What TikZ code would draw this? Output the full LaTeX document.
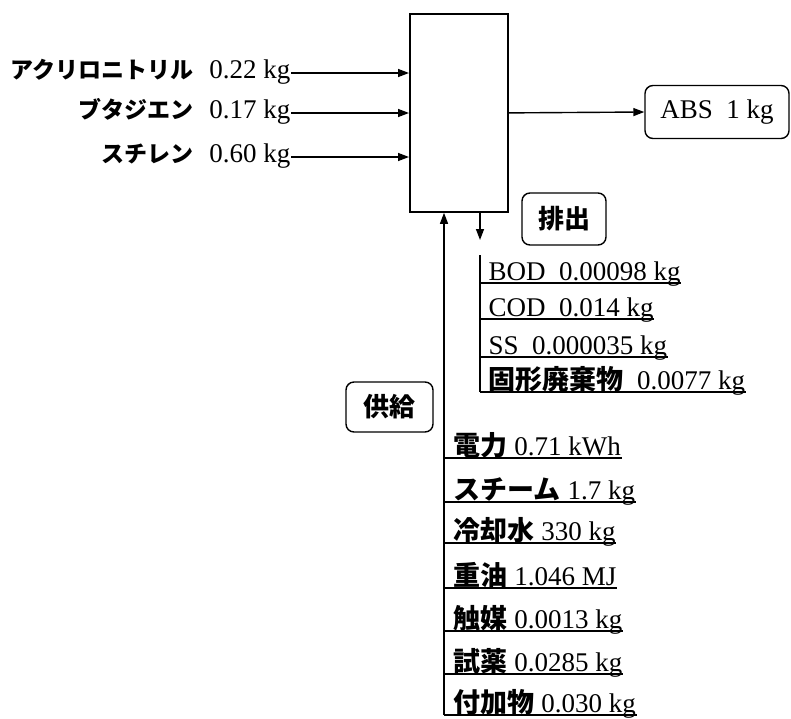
\documentclass[tikz,border=0pt]{standalone}
\usepackage{fontspec}
\setmainfont{Liberation Serif}
\newfontfamily\jpfont{Noto Sans CJK JP}
\newcommand\jpb[1]{{\jpfont\bfseries #1}}
\newcommand\jps[1]{{\fontsize{23}{25}\selectfont\jpfont\bfseries #1}}
\usetikzlibrary{arrows.meta,calc}
\begin{document}
\begin{tikzpicture}[x=1pt,y=-1pt,
  line width=1.4pt,
  arr/.style={-{Triangle[length=11pt,width=8pt]}},
  txt/.style={inner sep=0pt, font=\fontsize{27}{30}\selectfont},
  rbox/.style={draw, rounded corners=8pt, inner sep=0pt, font=\fontsize{26}{30}\selectfont},
  procbox/.style={draw, line width=1.8pt, inner sep=0pt, minimum width=98pt, minimum height=198pt},
]
\useasboundingbox (0,0) rectangle (791,718);

% process box
\node[procbox, anchor=north west] (proc) at (409,13) {};

% inputs
\node[txt, anchor=base east] (in1) at (291,78) {\jps{アクリロニトリル}\hspace{16pt}0.22 kg};
\node[txt, anchor=base east] (in2) at (291,118) {\jps{ブタジエン}\hspace{16pt}0.17 kg};
\node[txt, anchor=base east] (in3) at (291,162) {\jps{スチレン}\hspace{16pt}0.60 kg};
\foreach \n in {in1,in2,in3}{
  \draw[arr] ($(\n.base east)+(0,-5)$) -- ($(\n.base east -| proc.west)+(0,-5)$);
}

% output
\node[rbox, minimum width=144pt, minimum height=53pt, font=\fontsize{27}{30}\selectfont] (abs) at (717,112) {ABS\ \ 1 kg};
\draw[arr] (proc.east) -- (abs.west);

% emission
\coordinate (dn) at (480,240);
\draw[arr] (proc.south -| dn) -- (dn);
\node[rbox, minimum width=84pt, minimum height=52pt] (emit) at (564,219) {\jpb{排出}};
\coordinate (emtop) at (480,255);
\node[txt, anchor=base west] (e1) at (488,280) {BOD\ \ 0.00098 kg};
\node[txt, anchor=base west] (e2) at (488,316) {COD\ \ 0.014 kg};
\node[txt, anchor=base west] (e3) at (488,354) {SS\ \ 0.000035 kg};
\node[txt, anchor=base west] (e4) at (488,389) {\jpb{固形廃棄物}\ \ 0.0077 kg};
\draw (emtop) -- ($(emtop |- e4.base)+(0,3)$);
\foreach \n in {e1,e2,e3,e4}{
  \draw ($(emtop |- \n.base)+(0,3)$) -- ($(\n.base east)+(0,3)$);
}

% supply
\node[rbox, minimum width=87pt, minimum height=50pt] (supply) at (389.5,407) {\jpb{供給}};
\coordinate (supx) at (444,0);
\node[txt, anchor=base west] (s1) at (453,455) {\jpb{電力} 0.71 kWh};
\node[txt, anchor=base west] (s2) at (453,499) {\jpb{スチーム} 1.7 kg};
\node[txt, anchor=base west] (s3) at (453,540) {\jpb{冷却水} 330 kg};
\node[txt, anchor=base west] (s4) at (453,585) {\jpb{重油} 1.046 MJ};
\node[txt, anchor=base west] (s5) at (453,628) {\jpb{触媒} 0.0013 kg};
\node[txt, anchor=base west] (s6) at (453,671) {\jpb{試薬} 0.0285 kg};
\node[txt, anchor=base west] (s7) at (453,712) {\jpb{付加物} 0.030 kg};
\draw[arr] ($(supx |- s7.base)+(0,3)$) -- (supx |- proc.south);
\foreach \n in {s1,s2,s3,s4,s5,s6,s7}{
  \draw ($(supx |- \n.base)+(0,3)$) -- ($(\n.base east)+(0,3)$);
}
\end{tikzpicture}
\end{document}
